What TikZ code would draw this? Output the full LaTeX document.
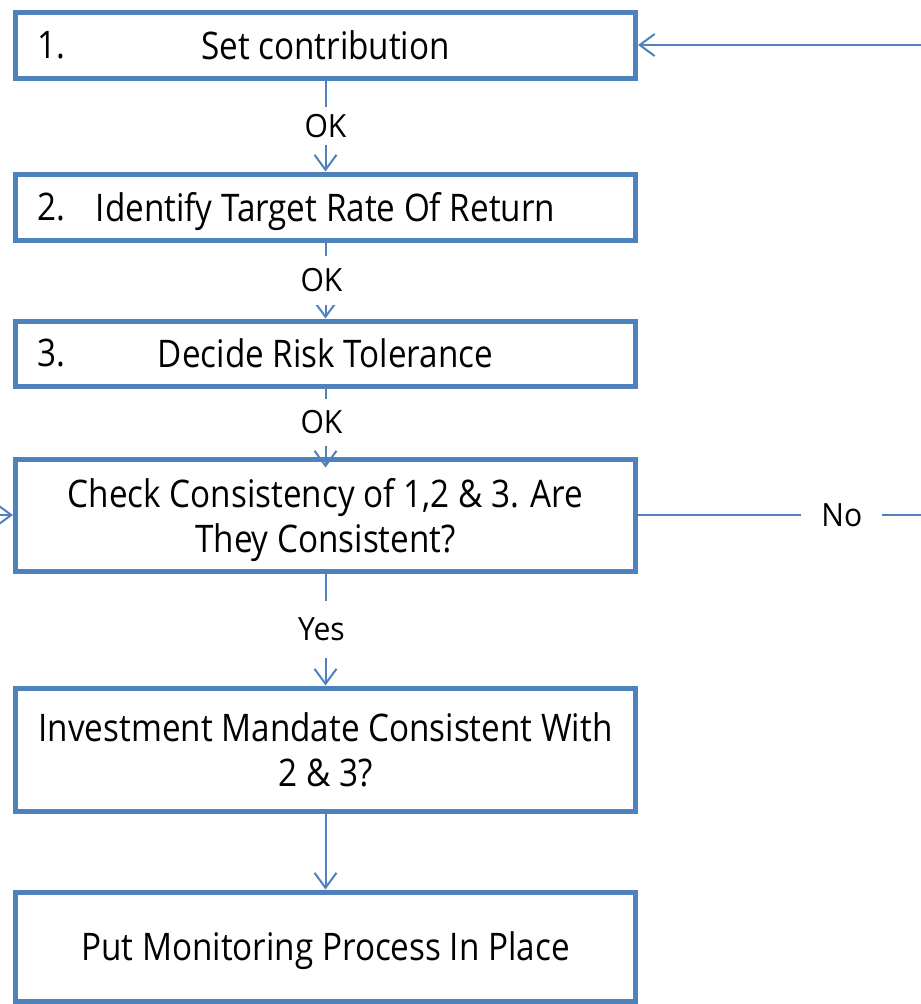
\documentclass[tikz,border=0pt]{standalone}
\usepackage{fontspec}
\setmainfont{Open Sans}[FakeStretch=0.875]
\newfontfamily\lblfont{Open Sans}[FakeStretch=0.94]
\usetikzlibrary{arrows.meta}
\definecolor{boxblue}{HTML}{4F81BD}
\begin{document}
\begin{tikzpicture}[
    x=1pt, y=-1pt,
    stepbox/.style={draw=boxblue, line width=5pt, minimum width=620pt,
      inner sep=0pt, align=center, text depth=0pt,
      font=\fontsize{38}{45}\selectfont},
    numlbl/.style={anchor=west, xshift=24pt, inner sep=0pt,
      font=\fontsize{38}{45}\selectfont},
    flow/.style={draw=boxblue, line width=2pt,
      -{Straight Barb[length=15pt,width=22pt]}},
    answer/.style={fill=white, inner xsep=2pt, inner ysep=7pt,
      font=\lblfont\fontsize{32}{38}\selectfont}
  ]
  \useasboundingbox (0,0) rectangle (921,1004);
  % the steps
  \node[stepbox, minimum height=66pt, label={[numlbl]west:1.}] (contrib) at (325.5,45) {Set contribution};
  \node[stepbox, minimum height=66pt, label={[numlbl]west:2.}] (target) at (325.5,207) {Identify Target Rate Of Return};
  \node[stepbox, minimum height=65pt, label={[numlbl]west:3.}] (risk) at (325.5,353.5) {Decide Risk Tolerance};
  \node[stepbox, minimum height=112pt] (check) at (325.5,515) {Check Consistency of 1,2 \& 3. Are\\They Consistent?};
  \node[stepbox, minimum height=123pt] (mandate) at (325.5,749.5) {Investment Mandate Consistent With\\2 \& 3?};
  \node[stepbox, minimum height=109pt] (monitor) at (325.5,946.5) {Put Monitoring Process In Place};
  % loose ends
  \coordinate (backin) at (921,45);
  \coordinate (noout) at (921,515);
  \coordinate (leftin) at (0,515);
  % connectors
  \draw[flow] (contrib) -- node[answer]{OK} (target);
  \draw[flow] (target) -- node[answer, inner ysep=13pt, xshift=-4pt]{OK} (risk);
  \draw[flow, shorten >=-11pt] (risk) -- node[answer, inner ysep=12pt, xshift=-4pt]{OK} (check);
  \draw[flow] (check) -- node[answer, inner ysep=17pt, xshift=-4pt]{Yes} (mandate);
  \draw[flow] (mandate) -- (monitor);
  \draw[flow, -] (check.east) -- node[answer, pos=0.72, inner xsep=20pt]{No} (noout);
  \draw[flow] (backin) -- (contrib.east);
  \draw[flow] (leftin) -- (check.west);
\end{tikzpicture}
\end{document}
